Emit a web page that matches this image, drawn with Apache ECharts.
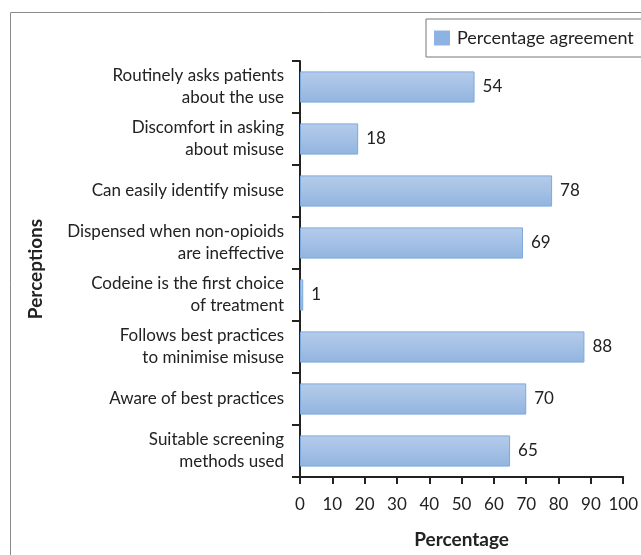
<!DOCTYPE html>
<html>
<head>
<meta charset="utf-8">
<script src="https://cdn.jsdelivr.net/npm/echarts@6/dist/echarts.min.js"></script>
<style>
  html, body { margin: 0; padding: 0; background: #fff; }
  #chart { width: 641px; height: 555px; }
</style>
</head>
<body>
<div id="chart"></div>
<script>
// Perceptions of codeine dispensing, listed top to bottom
const categories = [
  'Routinely asks patients\nabout the use',
  'Discomfort in asking\nabout misuse',
  'Can easily identify misuse',
  'Dispensed when non-opioids\nare ineffective',
  'Codeine is the first choice\nof treatment',
  'Follows best practices\nto minimise misuse',
  'Aware of best practices',
  'Suitable screening\nmethods used'
];
const agreement = [54, 18, 78, 69, 1, 88, 70, 65];
const seriesName = 'Percentage agreement';
const xTicks = [0, 100, 10];

const FONT = 'Lato';
const chart = echarts.init(document.getElementById('chart'));

chart.setOption({
  animation: false,
  textStyle: { fontFamily: FONT },
  graphic: [{
    type: 'polyline',
    shape: { points: [[10.5, 700], [10.5, 12.5], [700, 12.5]] },
    style: { stroke: '#8a8a8a', lineWidth: 1, fill: null },
    silent: true
  }],
  legend: {
    left: 426,
    top: 19,
    padding: [10, 40, 10, 8],
    borderColor: '#777',
    borderWidth: 1,
    itemWidth: 16,
    itemHeight: 15,
    itemGap: 10,
    icon: 'rect',
    textStyle: { fontFamily: FONT, fontSize: 18, color: '#222', padding: [0, 0, 0, 2] },
    data: [{ name: seriesName, itemStyle: { color: '#8db3e2', borderWidth: 0 } }]
  },
  grid: { left: 300, right: 17, top: 61, bottom: 78, containLabel: false },
  xAxis: {
    type: 'value',
    min: xTicks[0],
    max: xTicks[1],
    interval: xTicks[2],
    name: 'Percentage',
    nameLocation: 'middle',
    nameGap: 53,
    nameTextStyle: { fontFamily: FONT, fontSize: 19, fontWeight: 'bold', color: '#222' },
    axisLine: { show: true, lineStyle: { color: '#222', width: 2 } },
    axisTick: { show: true, length: 7, lineStyle: { color: '#222', width: 2 } },
    axisLabel: { fontFamily: FONT, fontSize: 17, color: '#222', margin: 19 },
    splitLine: { show: false }
  },
  yAxis: {
    type: 'category',
    inverse: true,
    data: categories,
    name: 'Perceptions',
    nameLocation: 'middle',
    nameGap: 255,
    nameRotate: 90,
    nameTextStyle: { fontFamily: FONT, fontSize: 19, fontWeight: 'bold', color: '#222' },
    axisLine: { show: true, lineStyle: { color: '#222', width: 2 } },
    axisTick: { show: true, length: 8, lineStyle: { color: '#222', width: 2 } },
    axisLabel: { fontFamily: FONT, fontSize: 17, color: '#222', margin: 16, lineHeight: 22, align: 'right' }
  },
  series: [{
    name: seriesName,
    type: 'bar',
    data: agreement,
    barCategoryGap: '40%',
    itemStyle: {
      color: new echarts.graphic.LinearGradient(0, 0, 0, 1, [
        { offset: 0, color: '#b5cceb' },
        { offset: 1, color: '#92b4df' }
      ]),
      borderColor: '#7da8dc',
      borderWidth: 1
    },
    label: {
      show: true,
      position: 'right',
      distance: 8,
      fontFamily: FONT,
      fontSize: 17,
      color: '#222'
    }
  }]
});
</script>
</body>
</html>
